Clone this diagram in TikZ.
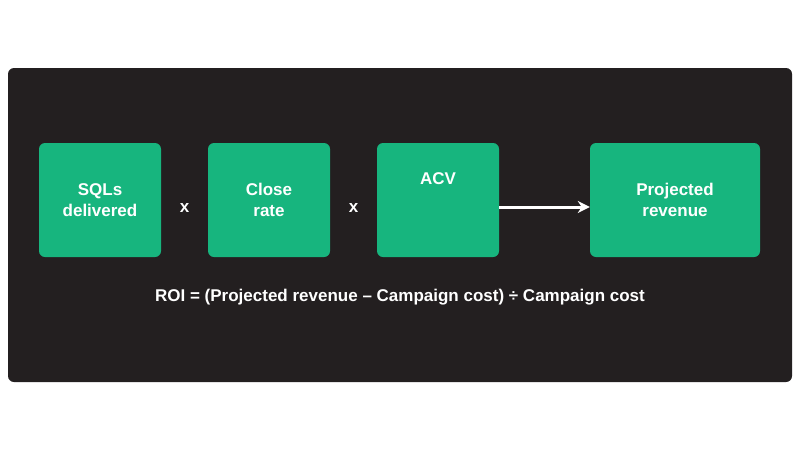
\documentclass[tikz,border=0pt]{standalone}
\usepackage{fontspec}
\setmainfont{Liberation Sans}
\usetikzlibrary{arrows.meta}
\definecolor{bg}{HTML}{231F20}
\definecolor{grn}{HTML}{17B57E}
\begin{document}
\begin{tikzpicture}[x=1pt,y=-1pt,
  box/.style={fill=grn,rounded corners=6pt,minimum height=114pt,align=center,text=white,font=\fontsize{17}{21}\selectfont\bfseries},
  op/.style={text=white,font=\fontsize{17}{21}\selectfont\bfseries}]
\useasboundingbox (0,0) rectangle (800,450);
\fill[white] (0,0) rectangle (800,450);
\fill[bg,rounded corners=6pt] (8,68) rectangle (792,382);
\node[box,minimum width=122pt] (a) at (100,200) {SQLs\\delivered};
\node[box,minimum width=122pt] (b) at (269,200) {Close\\rate};
\node[box,minimum width=122pt] (c) at (438,200) {ACV\\[21pt]};
\node[box,minimum width=170pt] (d) at (675,200) {Projected\\revenue};
\node[op] (x1) at (184.5,208) {x};
\node[op] (x2) at (353.5,208) {x};
\draw[white,line width=3pt,-{Stealth[length=12pt,width=12pt]}] (c.east|-0,207) -- (d.west|-0,207);
\node[op] (f) at (400,297) {ROI = (Projected revenue – Campaign cost) ÷ Campaign cost};
\end{tikzpicture}
\end{document}
